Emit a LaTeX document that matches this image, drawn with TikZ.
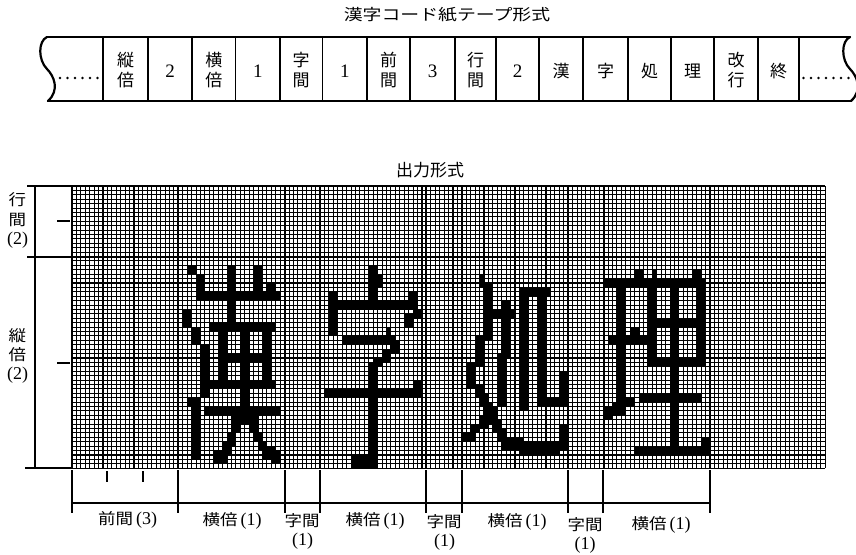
\documentclass[tikz,border=0pt]{standalone}
\usepackage{fontspec}
\setmainfont{Liberation Serif}
\newfontfamily\cjk{Noto Sans CJK JP}
\newcommand\jp[1]{{\cjk\fontsize{17.5}{17.5}\selectfont\scalebox{1}[0.88]{#1}}}
\newcommand\nm[1]{{\fontsize{18}{18}\selectfont #1}}
\newcommand\glyph[2]{\begin{scope}[shift={(#1,16)}]\foreach \a/\b/\c/\d in {#2} {\fill (\a,\b) rectangle ({\c+1},{\d+1});}\end{scope}}

\tikzset{
  tapeline/.style={line width=2.2pt, line cap=round},
  cellsep/.style={line width=1.8pt},
  gridthin/.style={line width=1.05pt},
  gridbold/.style={line width=2pt},
  dimline/.style={line width=1.3pt},
  dimtick/.style={line width=2pt},
  lbl/.style={inner sep=0pt, anchor=center, align=center},
  tl/.style={lbl, font=\cjk\fontsize{17}{19.5}\selectfont},
  tn/.style={lbl, font=\fontsize{19}{19}\selectfont},
}

\begin{document}
\begin{tikzpicture}[x=1pt,y=-1pt]
\useasboundingbox (0,0) rectangle (856,554);
\clip (0,0) rectangle (856,554);
\fill[white] (0,0) rectangle (856,554);

% ---------- title ----------
\node[lbl] (title) at (447,15) {\cjk\fontsize{17}{17}\selectfont\scalebox{1.11}[0.92]{漢字コード紙テープ形式}};

% ---------- tape ----------
\draw[tapeline] (47,37) -- (850,37);
\draw[tapeline] (48,101) -- (851,101);
\draw[tapeline] (47,37) .. controls (38,41) and (38,60) .. (47,69) .. controls (54,76) and (60,90) .. (48,101);
\draw[tapeline] (850,37) .. controls (841,41) and (841,60) .. (850,69) .. controls (857,76) and (863,90) .. (851,101);
\foreach \x in {103,148,192,235.5,280,322.5,367,410,455,496,539,583,628,671,714,758,799}
  \draw[cellsep] (\x,37) -- (\x,101);
\foreach \x in {60,67.5,...,99} \fill (\x,78) circle (1.3);
\foreach \x in {803.5,811,...,851} \fill (\x,78) circle (1.3);

\node[tl] (t1) at (125.5,70) {縦\\倍};
\node[tn] (t2) at (170,71) {2};
\node[tl] (t3) at (213.8,70) {横\\倍};
\node[tn] (t4) at (257.8,71) {1};
\node[tl] (t5) at (301,70) {字\\間};
\node[tn] (t6) at (344.8,71) {1};
\node[tl] (t7) at (388.5,70) {前\\間};
\node[tn] (t8) at (432.5,71) {3};
\node[tl] (t9) at (475.5,70) {行\\間};
\node[tn] (t10) at (517.5,71) {2};
\node[tl] (t11) at (561,71) {漢};
\node[tl] (t12) at (605.5,71) {字};
\node[tl] (t13) at (649.5,71) {処};
\node[tl] (t14) at (692.5,71) {理};
\node[tl] (t15) at (736,70) {改\\行};
\node[tl] (t16) at (778.5,71) {終};

% ---------- output ----------
\node[tl] (out) at (430,170) {出力形式};

\begin{scope}[shift={(72pt,-186pt)}, x=4.43pt, y=-4.41pt]
  \foreach \i in {0,...,170} \draw[gridthin] (\i,0) -- (\i,64);
  \foreach \j in {0,...,64} \draw[gridthin] (0,\j) -- (170,\j);
  \foreach \i in {24,48,56,80,88,112,120,144} \draw[gridbold] (\i,0) -- (\i,64);
  \draw[gridbold] (0,16) -- (170,16);
  % 漢
  \glyph{24}{2/2/3/3, 4/4/5/7, 4/8/22/9, 11/2/12/14, 17/2/18/9, 20/6/21/7,
    1/12/2/15, 3/16/4/19, 5/20/6/31, 3/32/4/45, 2/32/2/33,
    7/15/21/16, 9/15/10/29, 19/15/20/29, 14/15/15/37, 9/22/20/23, 5/28/21/29, 6/34/22/35,
    12/36/13/39, 11/40/12/42, 10/42/11/44, 8/44/10/46,
    16/36/17/39, 17/40/18/41, 18/42/19/43, 19/43/21/45, 21/44/22/46}
  % 字
  \glyph{56}{11/2/12/9, 13/4/13/6, 2/10/21/11, 2/8/3/17, 20/8/21/11, 21/12/22/13, 19/13/20/15,
    5/18/16/19, 15/16/15/17, 16/19/17/21, 14/21/15/23, 12/23/13/24,
    11/24/12/47, 7/45/10/47, 1/30/22/31, 21/28/22/29}
  % 処
  \glyph{88}{4/4/4/6, 5/6/6/18, 3/18/4/24, 1/24/2/29,
    7/12/11/13, 9/10/10/22, 8/22/9/33,
    3/29/4/31, 4/31/5/33, 5/33/6/35, 6/35/7/37, 7/37/8/39, 8/39/9/41,
    6/34/7/36, 4/36/5/38, 2/38/3/39, 0/40/2/41,
    9/41/13/43, 13/42/21/44, 22/38/23/43,
    13/7/14/34, 13/7/19/8, 17/7/18/33, 17/32/22/33, 22/26/23/33}
  % 理
  \glyph{120}{0/5/9/6, 7/3/8/4, 3/5/4/33, 1/18/9/19, 6/16/7/17,
    0/34/1/36, 2/33/4/35, 5/32/6/33,
    10/5/22/6, 11/3/11/4, 20/3/21/4, 10/5/11/24, 21/5/22/24, 15/5/16/44,
    10/14/22/15, 10/23/22/24, 8/31/21/32, 7/43/23/44, 22/41/23/42}
\end{scope}

% ---------- left dimension ----------
\coordinate (lt) at (35,186);
\coordinate (lb) at (35,468);
\draw[dimline] (lt) -- (lb);
\draw[dimtick] (27,186) -- (72,186);
\draw[dimtick] (27,257) -- (72,257);
\draw[dimtick] (25,468) -- (72,468);
\draw[dimtick] (57,221) -- (70,221);
\draw[dimtick] (57,363) -- (70,363);
\node[lbl] (l1) at (17.5,200) {\jp{行}};
\node[lbl] (l2) at (17.5,220) {\jp{間}};
\node[lbl] (l3) at (17.5,240) {\nm{(2)}};
\node[lbl] (l4) at (17.5,336) {\jp{縦}};
\node[lbl] (l5) at (17.5,355) {\jp{倍}};
\node[lbl] (l6) at (17.5,375) {\nm{(2)}};

% ---------- bottom dimension ----------
\foreach \x in {72,178.3,284.6,320,426.3,461.7,568,603.4,709.9}
  \draw[dimtick] (\x,470) -- (\x,513);
\draw[dimline] (72,503) -- (709.9,503);
\draw[dimtick] (107.4,471) -- (107.4,482);
\draw[dimtick] (142.9,471) -- (142.9,482);

\node[lbl] (b1) at (127.5,520) {\jp{前間}\hspace{3pt}\nm{(3)}};
\node[lbl] (b2) at (232,521) {\jp{横倍}\hspace{3pt}\nm{(1)}};
\node[lbl] (b3) at (302,521) {\jp{字間}};
\node[lbl] (b3n) at (302.5,541) {\nm{(1)}};
\node[lbl] (b4) at (375,521) {\jp{横倍}\hspace{3pt}\nm{(1)}};
\node[lbl] (b5) at (444,521.5) {\jp{字間}};
\node[lbl] (b5n) at (444.5,542) {\nm{(1)}};
\node[lbl] (b6) at (517,522) {\jp{横倍}\hspace{3pt}\nm{(1)}};
\node[lbl] (b7) at (585,524.5) {\jp{字間}};
\node[lbl] (b7n) at (585,545.5) {\nm{(1)}};
\node[lbl] (b8) at (661,525) {\jp{横倍}\hspace{3pt}\nm{(1)}};
\end{tikzpicture}
\end{document}
